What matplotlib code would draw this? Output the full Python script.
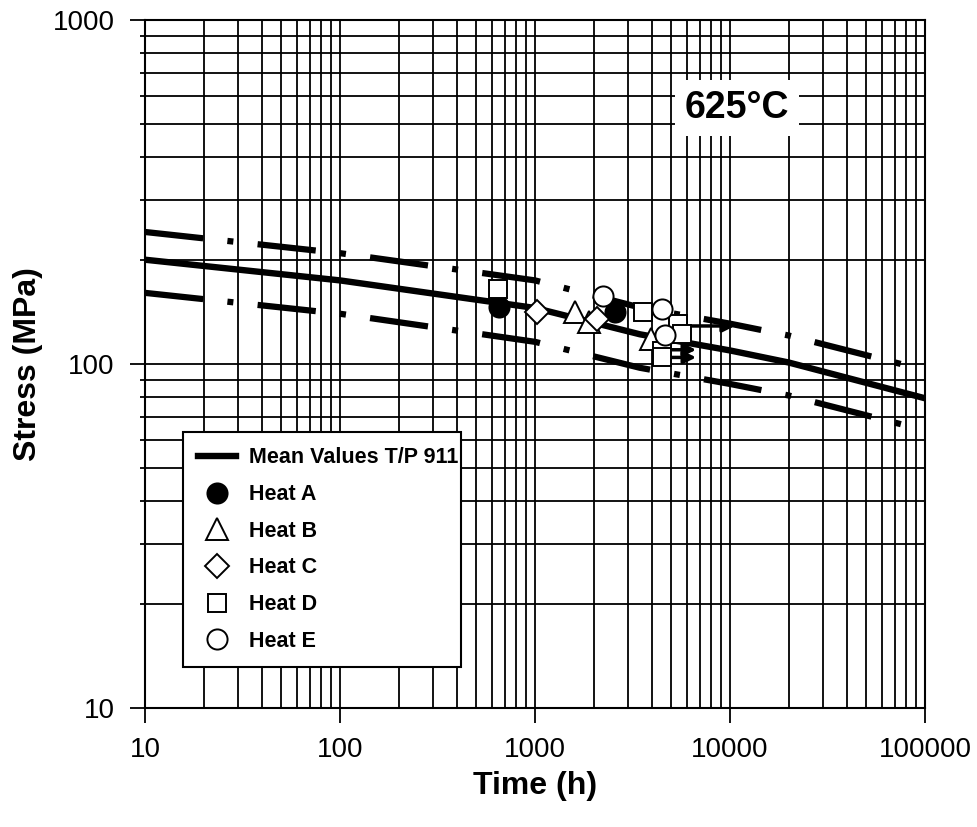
import numpy as np
import matplotlib.pyplot as plt
from matplotlib.ticker import LogLocator, FixedLocator, FuncFormatter, NullFormatter

plt.rcParams['font.family'] = ['Liberation Sans', 'DejaVu Sans']

# mean curve and scatter band (+/-20 %)
mean_t = [10, 100, 1000, 3450, 10000, 20000, 100000]
mean_s = [201, 175, 145.5, 122, 109.5, 101, 79.5]
upper_t = [10, 100, 1000, 3450, 10000, 20000, 78000]
upper_s = [242, 210, 175, 146, 131, 121, 99.5]
lower_t = [10, 100, 1000, 3450, 10000, 20000, 78000]
lower_s = [161, 140, 116, 97.5, 87.5, 81, 66.5]

# test results (time in h, stress in MPa)
heat_a_t = [650, 2570]
heat_a_s = [146.5, 141.6]
heat_b_t = [1600, 1890, 3935]
heat_b_s = [142, 132.5, 118]
heat_c_t = [1024, 2080]
heat_c_s = [141.5, 135]
heat_d_t = [646, 3580, 5410, 5675, 4480, 4480]
heat_d_s = [165, 142, 130.5, 122, 109, 104.5]
heat_e_t = [2233, 4480, 4645]
heat_e_s = [157.5, 144.5, 121.4]

# running tests (arrows)
run_t0 = [5600, 4650, 4650]
run_t1 = [10600, 6700, 6700]
run_s = [129, 110, 104.5]

fig = plt.figure(figsize=(9.77, 8.27), dpi=100)
ax = fig.add_axes([0.1484, 0.1439, 0.7984, 0.8319])
ax.set_xscale('log')
ax.set_yscale('log')
ax.set_xlim(10, 100000)
ax.set_ylim(10, 1000)

ax.grid(True, which='both', color='black', lw=1.3, zorder=0)
ax.set_axisbelow(True)

band_style = (0, (9.36, 3.9, 0.96, 3.9))
ax.plot(upper_t, upper_s, color='black', lw=4.5, ls=band_style, zorder=2)
ax.plot(lower_t, lower_s, color='black', lw=4.5, ls=band_style, zorder=2)
ax.plot(mean_t, mean_s, color='black', lw=4.6, zorder=2, label='Mean Values T/P 911')

for t0, t1, s in zip(run_t0, run_t1, run_s):
    ax.annotate('', xy=(t1, s), xytext=(t0, s),
                arrowprops=dict(arrowstyle='-|>', color='black', lw=2.5,
                                mutation_scale=18, shrinkA=0, shrinkB=0),
                zorder=3)

mk = dict(ls='none', markeredgecolor='black', markeredgewidth=1.4, zorder=4)
ax.plot(heat_a_t, heat_a_s, marker='o', ms=14.5, markerfacecolor='black', label='Heat A', **mk)
ax.plot(heat_b_t, heat_b_s, marker='^', ms=16, markerfacecolor='white', label='Heat B', **mk)
ax.plot(heat_c_t, heat_c_s, marker='D', ms=12.5, markerfacecolor='white', label='Heat C', **mk)
ax.plot(heat_d_t, heat_d_s, marker='s', ms=13, markerfacecolor='white', label='Heat D', **mk)
ax.plot(heat_e_t, heat_e_s, marker='o', ms=14.5, markerfacecolor='white', label='Heat E', **mk)

ax.text(0.759, 0.872, '625°C', transform=ax.transAxes, fontsize=27, fontweight='bold',
        ha='center', va='center', zorder=5,
        bbox=dict(facecolor='white', edgecolor='none', pad=7))

ax.xaxis.set_major_locator(FixedLocator([10, 100, 1000, 10000, 100000]))
ax.yaxis.set_major_locator(FixedLocator([10, 100, 1000]))
ax.xaxis.set_minor_locator(LogLocator(base=10, subs=np.arange(2, 10)))
ax.yaxis.set_minor_locator(LogLocator(base=10, subs=np.arange(2, 10)))
ax.xaxis.set_major_formatter(FuncFormatter(lambda v, p: f'{v:.0f}'))
ax.yaxis.set_major_formatter(FuncFormatter(lambda v, p: f'{v:.0f}'))
ax.xaxis.set_minor_formatter(NullFormatter())
ax.yaxis.set_minor_formatter(NullFormatter())
ax.tick_params(which='major', length=11, width=1.3, labelsize=20, direction='out')
ax.tick_params(axis='x', which='major', pad=10)
ax.tick_params(axis='y', which='major', pad=11)
ax.tick_params(which='minor', length=3.5, width=1.3, direction='out')
ax.tick_params(axis='x', which='minor', length=0)
for sp in ax.spines.values():
    sp.set_linewidth(1.5)

ax.set_xlabel('Time (h)', fontsize=23, fontweight='bold', labelpad=6)
ax.set_ylabel('Stress (MPa)', fontsize=23, fontweight='bold', labelpad=7)

leg = ax.legend(loc='lower left', bbox_to_anchor=(0.0487, 0.0596, 0.357, 0.344), mode='expand',
                frameon=True, fancybox=False, framealpha=1, edgecolor='black',
                prop={'size': 15.5, 'weight': 'bold'}, handlelength=1.75, handletextpad=0.6,
                labelspacing=0.73, borderpad=0.7, borderaxespad=0)
leg.get_frame().set_linewidth(1.5)
leg.set_zorder(6)

fig.savefig('out.png', dpi=100)
